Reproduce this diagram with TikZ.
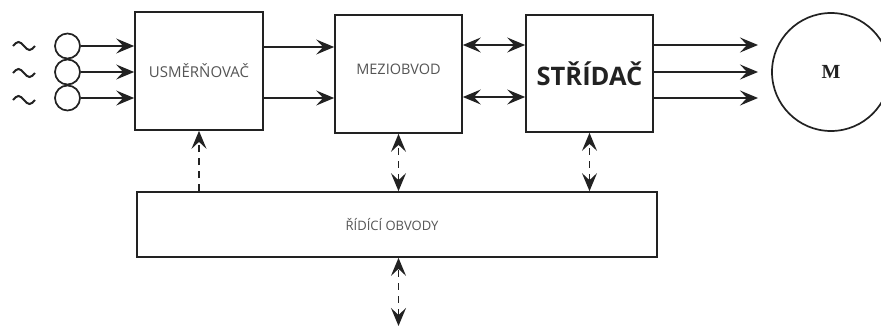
\documentclass[tikz,border=0pt]{standalone}
\usepackage{fontspec}
\setmainfont{Liberation Serif}
\newfontfamily\labfont{Open Sans}
\usetikzlibrary{arrows.meta,calc}
\definecolor{ink}{HTML}{222222}
\definecolor{lightink}{HTML}{555555}
\tikzset{
  blk/.style={draw=ink, line width=1.7pt, rectangle, inner sep=0pt},
  src/.style={draw=ink, line width=1.7pt, circle, minimum size=25pt, inner sep=0pt},
  conn/.style={draw=ink, line width=1.6pt},
  tip/.style={-{Stealth[length=18pt,width=15pt,inset=7pt]}},
  dtip/.style={{Stealth[length=18pt,width=15pt,inset=7pt]}-{Stealth[length=18pt,width=15pt,inset=7pt]}},
  dsh/.style={dash pattern=on 7pt off 6pt},
  wave/.style={draw=ink, line width=2pt}
}
\begin{document}
\begin{tikzpicture}[x=1pt,y=-1pt]
\path[use as bounding box, clip] (0,0) rectangle (881,327);
\fill[white] (0,0) rectangle (881,327);

% blocks
\node[blk, minimum width=128pt, minimum height=118pt, text=lightink, font=\labfont\fontsize{15}{15}\selectfont] (usm) at (199,71) {USMĚRŇOVAČ};
\node[blk, minimum width=127pt, minimum height=118pt, text=lightink, font=\labfont\fontsize{14.5}{15}\selectfont, text depth=10pt] (mez) at (398.5,74) {MEZIOBVOD};
\node[blk, minimum width=127pt, minimum height=117pt, text=ink, font=\labfont\bfseries\fontsize{25.5}{26}\selectfont] (str) at (589.5,73.5) {STŘÍDAČ};
\node[blk, minimum width=520pt, minimum height=65pt, inner sep=0pt] (ctl) at (397,224.5) {};
\node[text=lightink, font=\labfont\fontsize{13}{13}\selectfont] (ctlT) at (392,225) {ŘÍDÍCÍ OBVODY};
\node[draw=ink, line width=1.7pt, circle, minimum size=118pt, inner sep=0pt, font=\bfseries\fontsize{20}{20}\selectfont, text=ink] (mot) at (831,72) {M};

% sources
\node[src] (in1) at (67.5,46) {};
\node[src] (in2) at (67.5,72) {};
\node[src] (in3) at (67.5,98) {};
\foreach \y in {46,73,100}{
  \draw[wave] (13,\y) sin (18.5,\y-4) cos (24,\y) sin (29.5,\y+4) cos (35,\y);
}

% inputs to rectifier
\draw[conn,tip] (in1.east) -- (usm.west |- in1);
\draw[conn,tip] (in2.east) -- (usm.west |- in2);
\draw[conn,tip] (in3.east) -- (usm.west |- in3);

% rectifier to dc link
\coordinate (a1) at (263,47);
\coordinate (a2) at (263,98);
\draw[conn,tip] (usm.east |- a1) -- (mez.west |- a1);
\draw[conn,tip] (usm.east |- a2) -- (mez.west |- a2);

% dc link <-> inverter
\coordinate (b1) at (462,45);
\coordinate (b2) at (462,97);
\draw[conn,dtip] (mez.east |- b1) -- (str.west |- b1);
\draw[conn,dtip] (mez.east |- b2) -- (str.west |- b2);

% inverter to motor
\coordinate (m1) at (758,45);
\coordinate (m2) at (758,72);
\coordinate (m3) at (758,98);
\draw[conn,tip] (str.east |- m1) -- (m1);
\draw[conn,tip] (str.east |- m2) -- (m2);
\draw[conn,tip] (str.east |- m3) -- (m3);

% control connections
\draw[conn,dsh,tip] (ctl.north -| usm.south) -- (usm.south);
\draw[conn,dsh,dtip] (ctl.north -| mez.south) -- (mez.south);
\draw[conn,dsh,dtip] (ctl.north -| str.south) -- (str.south);
\coordinate (ext) at (398.5,326);
\draw[conn,dsh,dtip] (ext) -- (ctl.south -| ext);
\end{tikzpicture}
\end{document}
